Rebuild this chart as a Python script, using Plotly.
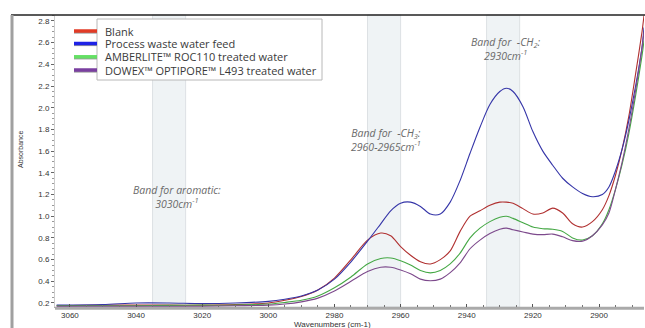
import plotly.graph_objects as go

wavenumbers = [3064, 3050, 3040, 3030, 3020, 3010, 3000, 2995, 2990, 2985, 2980, 2975, 2970,
               2966, 2963, 2960, 2957, 2954, 2951, 2948, 2945, 2942, 2939, 2936, 2933, 2930,
               2928, 2926, 2923, 2920, 2917, 2914, 2911, 2908, 2905, 2902, 2899, 2897, 2895,
               2893, 2891, 2889, 2887, 2886.4]

blank = [0.175, 0.18, 0.18, 0.18, 0.18, 0.185, 0.20, 0.225, 0.26, 0.32, 0.43, 0.60, 0.78,
         0.845, 0.82, 0.72, 0.64, 0.58, 0.56, 0.60, 0.68, 0.86, 1.00, 1.05, 1.10, 1.13,
         1.13, 1.12, 1.07, 1.02, 1.03, 1.075, 1.03, 0.93, 0.90, 0.95, 1.06, 1.19, 1.38,
         1.62, 1.92, 2.30, 2.70, 2.85]

feed = [0.18, 0.185, 0.20, 0.20, 0.195, 0.20, 0.215, 0.235, 0.265, 0.32, 0.42, 0.58, 0.77,
        0.93, 1.05, 1.12, 1.13, 1.09, 1.02, 1.02, 1.13, 1.33, 1.58, 1.82, 2.03, 2.15,
        2.18, 2.15, 2.01, 1.78, 1.60, 1.47, 1.35, 1.27, 1.21, 1.18, 1.20, 1.27, 1.42,
        1.62, 1.88, 2.19, 2.56, 2.74]

amberlite = [0.175, 0.175, 0.175, 0.178, 0.18, 0.18, 0.19, 0.205, 0.225, 0.265, 0.34, 0.44, 0.56,
             0.61, 0.615, 0.59, 0.55, 0.50, 0.478, 0.50, 0.56, 0.66, 0.80, 0.89, 0.95, 0.99,
             1.00, 0.98, 0.94, 0.90, 0.885, 0.88, 0.86, 0.80, 0.78, 0.82, 0.93, 1.06, 1.25,
             1.48, 1.76, 2.10, 2.48, 2.62]

dowex = [0.17, 0.17, 0.17, 0.17, 0.17, 0.175, 0.18, 0.19, 0.21, 0.245, 0.31, 0.40, 0.49,
         0.53, 0.53, 0.505, 0.47, 0.42, 0.405, 0.42, 0.48, 0.57, 0.70, 0.78, 0.84, 0.88,
         0.89, 0.875, 0.855, 0.835, 0.83, 0.835, 0.81, 0.775, 0.77, 0.82, 0.92, 1.03, 1.25,
         1.50, 1.80, 2.15, 2.55, 2.70]

series_names = ["Blank", "Process waste water feed", "AMBERLITE™ ROC110 treated water",
                "DOWEX™ OPTIPORE™ L493 treated water"]
series_values = [blank, feed, amberlite, dowex]
line_colors = ["#b03030", "#3535a8", "#45a845", "#7d4a8c"]
legend_colors = ["#e23b26", "#1e22e6", "#64e064", "#7a3fa0"]

bands = [(3025, 3035), (2960, 2970), (2924, 2934)]
band_labels = ["<i>Band for aromatic:<br>3030cm<sup>-1</sup></i>",
               "<i>Band for  -CH<sub>3</sub>:<br>2960-2965cm<sup>-1</sup></i>",
               "<i>Band for  -CH<sub>2</sub>:<br>2930cm<sup>-1</sup></i>"]
label_pos = [(3027.7, 1.18), (2964.3, 1.70), (2928.0, 2.54)]

W, H = 645, 328
L, R, T, B = 55, 1, 15, 21
PW, PH = W - L - R, H - T - B


def px(x):
    return (x - L) / PW


def py(y):
    return (H - B - y) / PH


fig = go.Figure()
for name, vals, col in zip(series_names, series_values, line_colors):
    fig.add_trace(go.Scatter(x=wavenumbers, y=vals, name=name, mode="lines",
                             line=dict(color=col, width=1.1, shape="spline", smoothing=0.8),
                             showlegend=False, hoverinfo="skip"))

shapes = []
for lo, hi in bands:
    shapes.append(dict(type="rect", xref="x", yref="paper", x0=lo, x1=hi, y0=0, y1=1,
                       fillcolor="#eff3f5", line=dict(color="#dde1e4", width=1), layer="below"))

# outer frame
shapes.append(dict(type="line", xref="paper", yref="paper", x0=px(11), x1=px(645), y0=1, y1=1,
                   line=dict(color="#222222", width=1.5)))
shapes.append(dict(type="line", xref="paper", yref="paper", x0=px(12), x1=px(12), y0=1, y1=py(330),
                   line=dict(color="#a0a0a0", width=3)))
# thick bottom axis bar
shapes.append(dict(type="line", xref="paper", yref="paper", x0=0, x1=1, y0=py(308.2), y1=py(308.2),
                   line=dict(color="#aaaaaa", width=3), layer="below"))

# manual legend
shapes.append(dict(type="rect", xref="paper", yref="paper", x0=px(97), x1=px(322), y0=py(19), y1=py(80),
                   fillcolor="white", line=dict(color="#b8b8b8", width=1), layer="above"))
leg_y = [31, 43.5, 56.8, 70]
annotations = []
for name, col, yy in zip(series_names, legend_colors, leg_y):
    shapes.append(dict(type="line", xref="paper", yref="paper", x0=px(74), x1=px(97),
                       y0=py(yy + 1.6), y1=py(yy + 1.6), line=dict(color="#9a9a9a", width=2), layer="above"))
    shapes.append(dict(type="line", xref="paper", yref="paper", x0=px(74), x1=px(97),
                       y0=py(yy), y1=py(yy), line=dict(color=col, width=3.5), layer="above"))
    annotations.append(dict(text=name, xref="paper", yref="paper", x=px(103), y=py(yy),
                            xanchor="left", yanchor="middle", showarrow=False,
                            font=dict(family="Open Sans", size=11, color="#3a3a3a")))

for txt, (xx, yy) in zip(band_labels, label_pos):
    annotations.append(dict(text=txt, x=xx, y=yy, xref="x", yref="y", showarrow=False,
                            align="center", xanchor="center", yanchor="middle",
                            font=dict(family="Open Sans", size=10.5, color="#6a6a6a")))

annotations.append(dict(text="Absorbance", xref="paper", yref="paper", x=px(20), y=py(150),
                        textangle=-90, showarrow=False, xanchor="center", yanchor="middle",
                        font=dict(family="Liberation Sans", size=7, color="#333333")))
annotations.append(dict(text="Wavenumbers (cm-1)", xref="paper", yref="paper", x=px(332), y=py(324.5),
                        showarrow=False, xanchor="center", yanchor="middle",
                        font=dict(family="Liberation Sans", size=8, color="#333333")))

fig.update_layout(
    width=W, height=H, margin=dict(l=L, r=R, t=T, b=B, pad=0),
    paper_bgcolor="white", plot_bgcolor="white",
    shapes=shapes, annotations=annotations, showlegend=False, hovermode=False,
    xaxis=dict(range=[3064.5, 2886.4], tick0=3060, dtick=20, showgrid=False, zeroline=False,
               showline=True, linecolor="#aaaaaa", linewidth=1, ticks="inside", ticklen=3,
               tickcolor="#555555", tickfont=dict(family="Liberation Sans", size=8, color="#333333"),
               minor=dict(dtick=5, ticks="inside", ticklen=2, tickcolor="#777777")),
    yaxis=dict(range=[0.163, 2.855], tick0=0.2, dtick=0.2, tickformat=".1f", showgrid=False,
               zeroline=False, showline=True, linecolor="#cccccc", linewidth=1, ticks="outside",
               ticklen=3, tickcolor="#666666",
               tickfont=dict(family="Liberation Sans", size=8, color="#333333"),
               minor=dict(dtick=0.05, ticks="outside", ticklen=2, tickcolor="#999999")),
)

fig.write_html("out.html", config={"displayModeBar": False},
               post_script="document.body.style.margin='0';document.body.style.overflow='hidden';")
